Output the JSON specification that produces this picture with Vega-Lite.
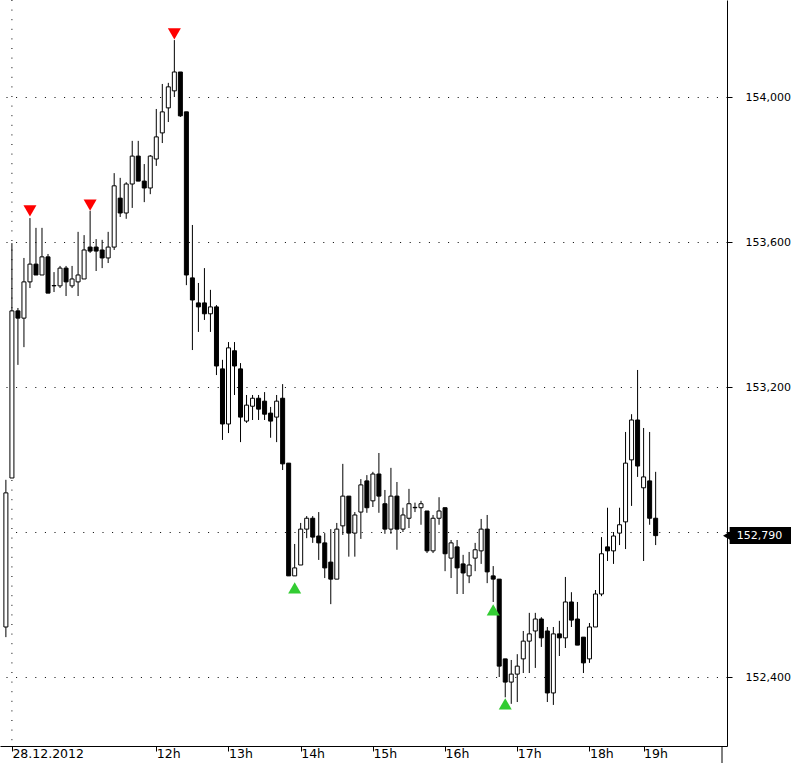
{
  "$schema": "https://vega.github.io/schema/vega-lite/v6.json",
  "width": 727,
  "height": 746,
  "autosize": {"type": "none"},
  "padding": {"left": 0, "top": 0, "right": 73, "bottom": 17},
  "background": "white",
  "config": {
    "view": {"stroke": null},
    "axis": {"labelFont": "DejaVu Sans", "labelFontSize": 11, "labelColor": "black", "domainColor": "black", "tickColor": "black", "title": null}
  },
  "datasets": {
    "candles": [
      {"i": -1, "o": 152.538, "h": 152.944, "l": 152.510, "c": 152.908},
      {"i": 0, "o": 152.949, "h": 153.597, "l": 152.949, "c": 153.410},
      {"i": 1, "o": 153.410, "h": 153.418, "l": 153.261, "c": 153.390},
      {"i": 2, "o": 153.390, "h": 153.556, "l": 153.310, "c": 153.490},
      {"i": 3, "o": 153.490, "h": 153.666, "l": 153.473, "c": 153.539},
      {"i": 4, "o": 153.539, "h": 153.639, "l": 153.509, "c": 153.509},
      {"i": 5, "o": 153.509, "h": 153.639, "l": 153.509, "c": 153.559},
      {"i": 6, "o": 153.559, "h": 153.567, "l": 153.459, "c": 153.459},
      {"i": 7, "o": 153.479, "h": 153.517, "l": 153.462, "c": 153.480},
      {"i": 8, "o": 153.479, "h": 153.534, "l": 153.473, "c": 153.528},
      {"i": 9, "o": 153.528, "h": 153.534, "l": 153.451, "c": 153.490},
      {"i": 10, "o": 153.479, "h": 153.534, "l": 153.473, "c": 153.498},
      {"i": 11, "o": 153.490, "h": 153.628, "l": 153.451, "c": 153.509},
      {"i": 12, "o": 153.498, "h": 153.619, "l": 153.498, "c": 153.578},
      {"i": 13, "o": 153.586, "h": 153.686, "l": 153.570, "c": 153.575},
      {"i": 14, "o": 153.586, "h": 153.608, "l": 153.520, "c": 153.575},
      {"i": 15, "o": 153.578, "h": 153.606, "l": 153.528, "c": 153.556},
      {"i": 16, "o": 153.556, "h": 153.628, "l": 153.542, "c": 153.586},
      {"i": 17, "o": 153.586, "h": 153.790, "l": 153.578, "c": 153.755},
      {"i": 18, "o": 153.721, "h": 153.777, "l": 153.669, "c": 153.680},
      {"i": 19, "o": 153.680, "h": 153.765, "l": 153.664, "c": 153.760},
      {"i": 20, "o": 153.760, "h": 153.879, "l": 153.694, "c": 153.837},
      {"i": 21, "o": 153.837, "h": 153.879, "l": 153.768, "c": 153.768},
      {"i": 22, "o": 153.768, "h": 153.815, "l": 153.710, "c": 153.749},
      {"i": 23, "o": 153.749, "h": 153.840, "l": 153.732, "c": 153.837},
      {"i": 24, "o": 153.829, "h": 153.967, "l": 153.810, "c": 153.890},
      {"i": 25, "o": 153.901, "h": 154.036, "l": 153.873, "c": 153.959},
      {"i": 26, "o": 153.970, "h": 154.039, "l": 153.931, "c": 154.028},
      {"i": 27, "o": 154.017, "h": 154.157, "l": 154.000, "c": 154.069},
      {"i": 28, "o": 154.069, "h": 154.069, "l": 153.945, "c": 153.948},
      {"i": 29, "o": 153.959, "h": 153.959, "l": 153.481, "c": 153.509},
      {"i": 30, "o": 153.501, "h": 153.647, "l": 153.302, "c": 153.440},
      {"i": 31, "o": 153.432, "h": 153.487, "l": 153.352, "c": 153.421},
      {"i": 32, "o": 153.432, "h": 153.528, "l": 153.385, "c": 153.402},
      {"i": 33, "o": 153.402, "h": 153.468, "l": 153.352, "c": 153.421},
      {"i": 34, "o": 153.421, "h": 153.426, "l": 153.233, "c": 153.258},
      {"i": 35, "o": 153.250, "h": 153.275, "l": 153.054, "c": 153.098},
      {"i": 36, "o": 153.098, "h": 153.324, "l": 153.073, "c": 153.308},
      {"i": 37, "o": 153.300, "h": 153.324, "l": 153.178, "c": 153.258},
      {"i": 38, "o": 153.250, "h": 153.266, "l": 153.048, "c": 153.117},
      {"i": 39, "o": 153.106, "h": 153.178, "l": 153.101, "c": 153.150},
      {"i": 40, "o": 153.147, "h": 153.178, "l": 153.109, "c": 153.169},
      {"i": 41, "o": 153.169, "h": 153.178, "l": 153.109, "c": 153.139},
      {"i": 42, "o": 153.161, "h": 153.186, "l": 153.109, "c": 153.125},
      {"i": 43, "o": 153.128, "h": 153.145, "l": 153.060, "c": 153.106},
      {"i": 44, "o": 153.117, "h": 153.178, "l": 153.048, "c": 153.161},
      {"i": 45, "o": 153.169, "h": 153.208, "l": 152.971, "c": 152.988},
      {"i": 46, "o": 152.990, "h": 152.990, "l": 152.679, "c": 152.679},
      {"i": 47, "o": 152.679, "h": 152.767, "l": 152.679, "c": 152.701},
      {"i": 48, "o": 152.709, "h": 152.825, "l": 152.709, "c": 152.808},
      {"i": 49, "o": 152.808, "h": 152.844, "l": 152.783, "c": 152.838},
      {"i": 50, "o": 152.838, "h": 152.844, "l": 152.770, "c": 152.786},
      {"i": 51, "o": 152.789, "h": 152.855, "l": 152.723, "c": 152.770},
      {"i": 52, "o": 152.770, "h": 152.797, "l": 152.673, "c": 152.701},
      {"i": 53, "o": 152.717, "h": 152.808, "l": 152.601, "c": 152.670},
      {"i": 54, "o": 152.670, "h": 152.825, "l": 152.670, "c": 152.808},
      {"i": 55, "o": 152.817, "h": 152.988, "l": 152.792, "c": 152.899},
      {"i": 56, "o": 152.899, "h": 152.899, "l": 152.732, "c": 152.797},
      {"i": 57, "o": 152.797, "h": 152.855, "l": 152.732, "c": 152.847},
      {"i": 58, "o": 152.855, "h": 152.946, "l": 152.781, "c": 152.930},
      {"i": 59, "o": 152.941, "h": 152.957, "l": 152.853, "c": 152.867},
      {"i": 60, "o": 152.886, "h": 152.966, "l": 152.869, "c": 152.960},
      {"i": 61, "o": 152.960, "h": 153.018, "l": 152.853, "c": 152.899},
      {"i": 62, "o": 152.878, "h": 152.916, "l": 152.795, "c": 152.808},
      {"i": 63, "o": 152.808, "h": 152.977, "l": 152.795, "c": 152.899},
      {"i": 64, "o": 152.899, "h": 152.938, "l": 152.751, "c": 152.808},
      {"i": 65, "o": 152.808, "h": 152.867, "l": 152.800, "c": 152.847},
      {"i": 66, "o": 152.838, "h": 152.919, "l": 152.811, "c": 152.878},
      {"i": 67, "o": 152.867, "h": 152.881, "l": 152.855, "c": 152.868},
      {"i": 68, "o": 152.867, "h": 152.886, "l": 152.820, "c": 152.878},
      {"i": 69, "o": 152.858, "h": 152.858, "l": 152.742, "c": 152.748},
      {"i": 70, "o": 152.748, "h": 152.847, "l": 152.742, "c": 152.838},
      {"i": 71, "o": 152.838, "h": 152.896, "l": 152.820, "c": 152.858},
      {"i": 72, "o": 152.867, "h": 152.867, "l": 152.692, "c": 152.740},
      {"i": 73, "o": 152.728, "h": 152.778, "l": 152.673, "c": 152.770},
      {"i": 74, "o": 152.759, "h": 152.778, "l": 152.629, "c": 152.701},
      {"i": 75, "o": 152.712, "h": 152.737, "l": 152.629, "c": 152.687},
      {"i": 76, "o": 152.679, "h": 152.745, "l": 152.659, "c": 152.709},
      {"i": 77, "o": 152.728, "h": 152.770, "l": 152.692, "c": 152.751},
      {"i": 78, "o": 152.748, "h": 152.836, "l": 152.712, "c": 152.808},
      {"i": 79, "o": 152.808, "h": 152.847, "l": 152.659, "c": 152.690},
      {"i": 80, "o": 152.679, "h": 152.706, "l": 152.607, "c": 152.670},
      {"i": 81, "o": 152.670, "h": 152.670, "l": 152.400, "c": 152.430},
      {"i": 82, "o": 152.450, "h": 152.450, "l": 152.344, "c": 152.386},
      {"i": 83, "o": 152.386, "h": 152.447, "l": 152.326, "c": 152.408},
      {"i": 84, "o": 152.408, "h": 152.463, "l": 152.331, "c": 152.430},
      {"i": 85, "o": 152.450, "h": 152.527, "l": 152.411, "c": 152.499},
      {"i": 86, "o": 152.499, "h": 152.577, "l": 152.411, "c": 152.519},
      {"i": 87, "o": 152.527, "h": 152.577, "l": 152.425, "c": 152.560},
      {"i": 88, "o": 152.560, "h": 152.565, "l": 152.483, "c": 152.508},
      {"i": 89, "o": 152.527, "h": 152.538, "l": 152.331, "c": 152.356},
      {"i": 90, "o": 152.356, "h": 152.538, "l": 152.323, "c": 152.519},
      {"i": 91, "o": 152.519, "h": 152.555, "l": 152.458, "c": 152.508},
      {"i": 92, "o": 152.508, "h": 152.676, "l": 152.480, "c": 152.607},
      {"i": 93, "o": 152.607, "h": 152.634, "l": 152.538, "c": 152.557},
      {"i": 94, "o": 152.560, "h": 152.607, "l": 152.488, "c": 152.488},
      {"i": 95, "o": 152.510, "h": 152.510, "l": 152.411, "c": 152.439},
      {"i": 96, "o": 152.450, "h": 152.549, "l": 152.439, "c": 152.538},
      {"i": 97, "o": 152.538, "h": 152.640, "l": 152.538, "c": 152.629},
      {"i": 98, "o": 152.629, "h": 152.786, "l": 152.623, "c": 152.740},
      {"i": 99, "o": 152.759, "h": 152.867, "l": 152.720, "c": 152.748},
      {"i": 100, "o": 152.748, "h": 152.800, "l": 152.712, "c": 152.789},
      {"i": 101, "o": 152.797, "h": 152.867, "l": 152.764, "c": 152.820},
      {"i": 102, "o": 152.828, "h": 153.076, "l": 152.753, "c": 152.990},
      {"i": 103, "o": 152.999, "h": 153.125, "l": 152.872, "c": 153.109},
      {"i": 104, "o": 153.109, "h": 153.247, "l": 152.952, "c": 152.982},
      {"i": 105, "o": 152.922, "h": 153.087, "l": 152.720, "c": 152.952},
      {"i": 106, "o": 152.941, "h": 153.076, "l": 152.820, "c": 152.838},
      {"i": 107, "o": 152.838, "h": 152.966, "l": 152.764, "c": 152.790}
    ],
    "markers": [
      {"i": 3, "p": 153.686, "s": "down"},
      {"i": 13, "p": 153.702, "s": "down"},
      {"i": 27, "p": 154.174, "s": "down"},
      {"i": 47, "p": 152.646, "s": "up"},
      {"i": 80, "p": 152.585, "s": "up"},
      {"i": 82, "p": 152.326, "s": "up"}
    ],
    "last": [{"i": 107, "price": 152.79, "label": "152,790"}]
  },
  "layer": [
    {
      "data": {"values": [{"i": 0}]},
      "mark": {"type": "rule", "color": "black", "strokeWidth": 1, "strokeDash": [1, 8.6]},
      "encoding": {
        "x": {"field": "i", "type": "quantitative", "scale": {"domain": [-1.148, 118.03], "nice": false, "zero": false}}
      }
    },
    {
      "data": {"name": "candles"},
      "mark": {"type": "rule", "color": "black", "strokeWidth": 1, "clip": true},
      "encoding": {
        "x": {
          "field": "i", "type": "quantitative",
          "scale": {"domain": [-1.148, 118.03], "nice": false, "zero": false},
          "axis": {
            "orient": "bottom",
            "values": [0, 24, 36, 48, 60, 72, 84, 96, 105],
            "labelExpr": "datum.value == 0 ? '28.12.2012' : datum.value == 24 ? '12h' : datum.value == 36 ? '13h' : datum.value == 48 ? '14h' : datum.value == 60 ? '15h' : datum.value == 72 ? '16h' : datum.value == 84 ? '17h' : datum.value == 96 ? '18h' : '19h'",
            "grid": false,
            "tickSize": 5,
            "labelAlign": "left",
            "labelBaseline": "top",
            "labelPadding": -4,
            "labelDx": 3,
            "labelFlush": false,
            "labelOverlap": false,
            "labelFontSize": 12.5
          }
        },
        "y": {
          "field": "l", "type": "quantitative",
          "scale": {"domain": [152.2097, 154.2676], "nice": false, "zero": false},
          "axis": {
            "orient": "right",
            "values": [152.4, 152.8, 153.2, 153.6, 154.0],
            "labelExpr": "abs(datum.value - 152.8) < 0.001 ? '' : replace(format(datum.value, '.3f'), '.', ',')",
            "grid": true,
            "gridColor": "black",
            "gridDash": [1, 8.6],
            "gridOpacity": 1,
            "tickSize": 5,
            "labelPadding": 13
          }
        },
        "y2": {"field": "h"}
      }
    },
    {
      "data": {"name": "candles"},
      "mark": {"type": "bar", "width": 4, "stroke": "black", "strokeWidth": 1, "clip": true},
      "encoding": {
        "x": {"field": "i", "type": "quantitative"},
        "y": {"field": "o", "type": "quantitative"},
        "y2": {"field": "c"},
        "fill": {"condition": {"test": "datum.c >= datum.o", "value": "white"}, "value": "black"}
      }
    },
    {
      "data": {"name": "markers"},
      "mark": {"type": "point", "filled": true, "size": 169, "opacity": 1, "strokeWidth": 0},
      "encoding": {
        "x": {"field": "i", "type": "quantitative"},
        "y": {"field": "p", "type": "quantitative"},
        "shape": {"field": "s", "type": "nominal", "scale": {"domain": ["down", "up"], "range": ["triangle-down", "triangle-up"]}, "legend": null},
        "color": {"field": "s", "type": "nominal", "scale": {"domain": ["down", "up"], "range": ["#ff0000", "#33cc33"]}, "legend": null}
      }
    },
    {
      "data": {"values": [{"edge": 118.03}]},
      "mark": {"type": "rule", "color": "black", "strokeWidth": 1, "clip": false},
      "encoding": {
        "x": {"field": "edge", "type": "quantitative"},
        "y": {"datum": 152.2097, "type": "quantitative"},
        "y2": {"datum": 152.1628}
      }
    },
    {
      "data": {"name": "last"},
      "mark": {"type": "rect", "color": "black", "clip": false},
      "encoding": {
        "x": {"datum": 119.3, "type": "quantitative"},
        "x2": {"datum": 129.5},
        "y": {"datum": 152.814, "type": "quantitative"},
        "y2": {"datum": 152.767}
      }
    },
    {
      "data": {"name": "last"},
      "mark": {"type": "point", "shape": "triangle-left", "filled": true, "color": "black", "size": 110, "opacity": 1, "clip": false},
      "encoding": {
        "x": {"datum": 118.95, "type": "quantitative"},
        "y": {"field": "price", "type": "quantitative"}
      }
    },
    {
      "data": {"name": "last"},
      "mark": {"type": "text", "color": "white", "font": "DejaVu Sans", "fontSize": 11, "align": "left", "baseline": "middle", "clip": false},
      "encoding": {
        "x": {"datum": 120.5, "type": "quantitative"},
        "y": {"field": "price", "type": "quantitative"},
        "text": {"field": "label"}
      }
    }
  ]
}
